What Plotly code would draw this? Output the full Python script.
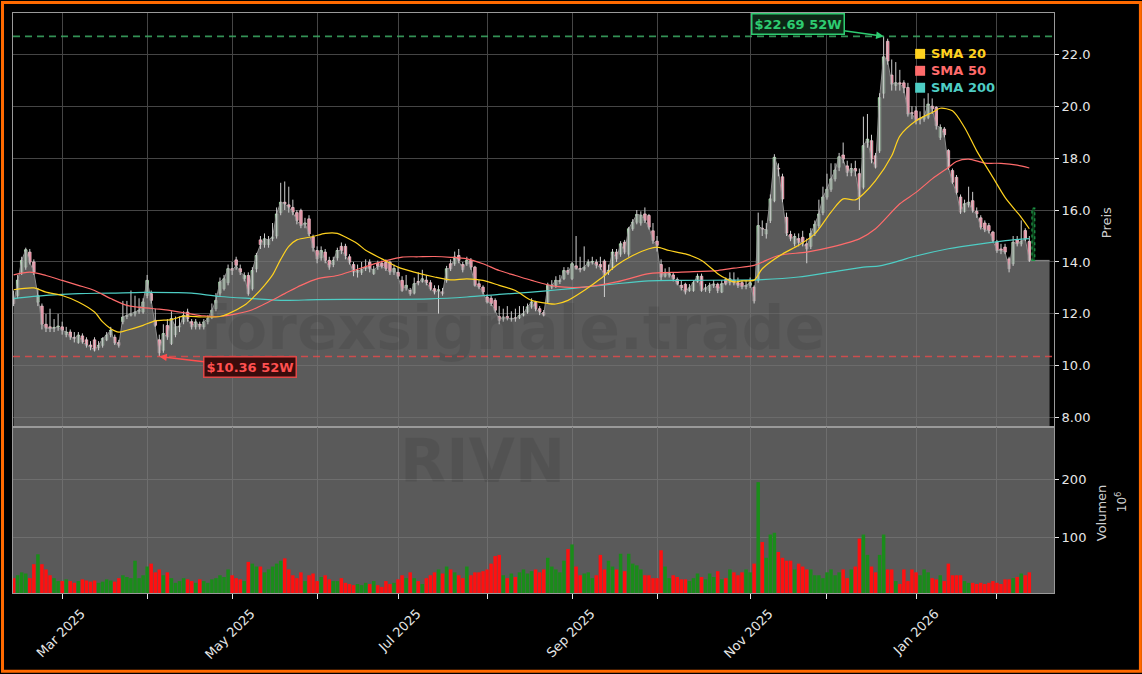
import plotly.graph_objects as go
import pandas as pd
import numpy as np

# ---------------- data ----------------
START = "2025-02-12"
END = "2026-02-12"
HOLIDAYS = ["2025-02-17", "2025-04-18", "2025-05-26", "2025-06-19", "2025-07-04",
            "2025-09-01", "2025-11-27", "2025-12-25", "2026-01-01", "2026-01-19"]

OPEN = [12.6, 12.71, 13.6, 13.8, 14.38, 14.0, 12.45, 12.3, 11.6, 11.5,
        11.45, 11.5, 11.5, 11.2, 11.3, 11.1, 10.9, 11.15, 11.0, 10.8,
        11.0, 10.7, 10.79, 11.0, 11.2, 11.1, 10.9, 11.7, 11.9, 11.95,
        12.0, 12.1, 12.07, 12.71, 12.78, 11.75, 11.0, 10.6, 11.55, 10.86,
        11.2, 11.5, 11.7, 12.07, 11.7, 11.5, 11.6, 11.5, 11.7, 11.85,
        12.2, 12.8, 12.97, 13.2, 13.74, 14.08, 13.74, 13.35, 13.48, 12.97,
        13.74, 14.85, 14.67, 14.67, 14.9, 15.0, 15.9, 16.3, 16.2, 16.1,
        15.9, 15.98, 15.45, 15.66, 14.96, 14.44, 14.16, 14.38, 14.06, 13.9,
        14.16, 14.6, 14.6, 14.2, 13.9, 13.6, 13.6, 13.75, 13.99, 13.55,
        13.95, 13.95, 13.99, 13.99, 13.61, 13.6, 13.29, 13.0, 12.9, 12.8,
        13.25, 13.25, 13.3, 13.2, 12.97, 12.9, 12.85, 13.29, 13.93, 13.93,
        14.25, 13.9, 13.93, 14.06, 13.8, 13.16, 13.03, 12.65, 12.6, 12.52,
        11.9, 11.8, 11.9, 11.8, 11.85, 11.85, 11.95, 12.07, 12.27, 12.44,
        12.2, 12.05, 12.46, 13.03, 13.1, 13.25, 13.36, 13.67, 13.36, 13.85,
        13.75, 13.72, 13.87, 13.99, 13.99, 13.9, 14.03, 13.6, 13.78, 14.38,
        14.3, 14.76, 14.3, 15.28, 15.53, 15.5, 15.85, 15.79, 15.2, 14.8,
        13.9, 13.45, 13.5, 13.5, 13.32, 13.1, 13.14, 12.9, 12.9, 13.25,
        13.45, 12.95, 12.9, 13.1, 13.14, 12.84, 13.32, 13.2, 13.3, 13.2,
        13.2, 13.05, 13.1, 13.03, 13.3, 15.3, 15.08, 15.6, 16.36, 17.6,
        17.28, 15.72, 15.06, 14.7, 14.9, 14.95, 14.7, 14.6, 15.1, 15.4,
        15.9, 16.5, 16.8, 17.2, 17.65, 18.12, 17.7, 17.45, 17.6, 17.4,
        16.88, 18.6, 18.67, 18.09, 18.28, 20.5, 22.5, 21.2, 20.8, 20.9,
        20.9, 20.72, 19.75, 19.82, 19.5, 19.5, 19.57, 20.0, 19.95, 18.8,
        19.12, 18.29, 17.52, 17.26, 16.5, 15.95, 16.2, 16.36, 15.95, 15.7,
        15.5, 15.4, 15.15, 14.76, 14.5, 14.57, 14.12, 13.93, 14.85, 14.7,
        15.21, 14.79]

HIGH = [12.9, 13.5, 14.2, 14.55, 14.5, 14.1, 13.0, 12.4, 12.0, 12.2,
        11.8, 12.0, 11.7, 11.5, 11.4, 11.3, 11.3, 11.25, 11.1, 10.95,
        11.1, 10.95, 11.1, 11.3, 11.5, 11.2, 11.0, 12.5, 12.5, 12.9,
        12.7, 12.6, 12.6, 13.5, 12.9, 12.2, 11.2, 11.6, 11.8, 12.1,
        11.9, 11.9, 12.1, 12.2, 11.8, 11.8, 11.7, 11.8, 11.95, 12.4,
        12.8, 13.4, 13.5, 13.9, 14.0, 14.2, 13.9, 13.6, 13.6, 13.8,
        14.35, 15.0, 15.1, 15.0, 15.5, 16.1, 17.05, 17.1, 16.9, 16.4,
        16.0, 16.05, 15.7, 15.8, 15.05, 14.6, 14.6, 14.5, 14.2, 14.2,
        14.55, 14.75, 14.7, 14.3, 14.0, 13.9, 14.0, 14.1, 14.1, 13.85,
        14.05, 14.05, 14.1, 14.05, 13.9, 13.8, 13.45, 13.5, 13.0, 13.4,
        13.6, 13.7, 13.5, 13.3, 13.1, 13.1, 13.0, 13.85, 14.1, 14.4,
        14.5, 14.0, 14.2, 14.15, 13.85, 13.3, 13.1, 12.75, 12.7, 12.6,
        12.3, 12.2, 12.3, 12.1, 12.2, 12.3, 12.3, 12.4, 12.6, 12.5,
        12.3, 12.15, 13.2, 13.3, 13.45, 13.5, 13.8, 13.8, 14.0, 15.0,
        14.2, 14.6, 14.1, 14.2, 14.1, 14.2, 14.1, 13.9, 14.5, 14.5,
        14.8, 14.85, 15.35, 15.65, 16.0, 15.95, 16.1, 15.85, 15.5, 15.0,
        14.1, 13.75, 13.8, 13.6, 13.4, 13.3, 13.2, 13.15, 13.3, 13.55,
        13.55, 13.15, 13.2, 13.3, 13.2, 13.3, 13.4, 13.6, 13.6, 13.4,
        13.3, 13.3, 13.4, 13.1, 15.9, 15.6, 15.5, 16.6, 18.15, 17.8,
        17.4, 15.9, 15.2, 15.1, 15.1, 15.2, 14.9, 15.3, 15.6, 16.4,
        16.9, 17.4, 17.8, 17.8, 18.2, 18.6, 17.9, 17.8, 17.9, 17.6,
        19.6, 19.7, 18.9, 18.2, 20.5, 22.69, 22.6, 21.8, 21.7, 21.4,
        21.0, 20.9, 20.0, 20.0, 19.8, 20.3, 20.5, 20.3, 20.0, 19.3,
        19.2, 18.35, 17.6, 17.35, 16.6, 16.4, 16.9, 16.7, 16.1, 15.8,
        15.6, 15.5, 15.2, 14.85, 14.7, 14.7, 14.2, 15.0, 15.0, 15.6,
        15.3, 15.0]

LOW = [12.3, 12.6, 13.5, 13.7, 13.9, 13.5, 12.3, 11.4, 11.3, 11.3,
       11.3, 11.35, 11.2, 11.1, 11.0, 10.9, 10.85, 10.85, 10.7, 10.6,
       10.55, 10.6, 10.7, 10.95, 11.1, 10.8, 10.7, 11.6, 11.8, 11.9,
       11.9, 12.0, 12.0, 12.6, 12.4, 11.5, 10.36, 10.5, 11.0, 10.8,
       11.1, 11.3, 11.6, 11.7, 11.4, 11.4, 11.4, 11.4, 11.6, 11.8,
       12.1, 12.7, 12.9, 13.1, 13.5, 13.7, 13.5, 13.25, 12.7, 12.9,
       13.6, 14.5, 14.55, 14.55, 14.8, 14.9, 15.8, 16.0, 15.9, 15.8,
       15.45, 15.3, 15.3, 15.0, 14.4, 13.95, 14.05, 13.95, 13.7, 13.8,
       14.05, 14.3, 14.1, 13.9, 13.45, 13.4, 13.5, 13.65, 13.6, 13.5,
       13.7, 13.75, 13.65, 13.5, 13.5, 13.35, 12.85, 12.9, 12.7, 12.75,
       13.1, 13.2, 13.1, 12.9, 12.75, 12.01, 12.7, 13.2, 13.65, 13.85,
       13.95, 13.6, 13.85, 13.7, 13.05, 12.95, 12.75, 12.4, 12.3, 12.05,
       11.6, 11.7, 11.75, 11.7, 11.7, 11.8, 11.9, 12.0, 12.2, 12.1,
       11.95, 11.9, 12.4, 12.95, 13.0, 13.15, 13.3, 13.5, 13.3, 13.7,
       13.6, 13.65, 13.8, 13.9, 13.75, 13.7, 12.65, 13.5, 13.7, 14.0,
       14.2, 14.3, 14.2, 15.2, 15.45, 15.4, 15.5, 15.25, 14.7, 14.4,
       13.3, 13.4, 13.4, 13.25, 13.1, 12.9, 12.75, 12.85, 12.85, 13.2,
       12.85, 12.85, 12.8, 13.0, 12.8, 12.8, 13.1, 13.1, 13.1, 13.0,
       12.95, 12.95, 13.0, 12.4, 13.2, 15.0, 14.9, 15.5, 16.3, 17.3,
       16.3, 15.0, 14.8, 14.6, 14.6, 14.6, 13.95, 14.5, 15.0, 15.3,
       15.8, 16.4, 16.7, 17.1, 17.5, 17.8, 17.3, 17.3, 17.3, 16.0,
       16.8, 18.4, 17.8, 17.6, 18.2, 20.3, 21.6, 20.6, 20.6, 20.6,
       20.5, 19.6, 19.5, 19.3, 19.3, 19.4, 19.5, 19.7, 19.1, 18.7,
       18.8, 17.55, 17.0, 16.6, 15.85, 15.9, 16.1, 15.9, 15.7, 15.25,
       15.15, 15.1, 14.75, 14.35, 14.3, 14.3, 13.6, 13.85, 14.6, 14.6,
       14.8, 14.0]

CLOSE = [12.4, 13.3, 14.06, 14.47, 13.99, 13.61, 12.7, 11.6, 11.45, 11.43,
         11.45, 11.5, 11.37, 11.3, 11.11, 11.05, 11.18, 10.92, 10.79, 10.73,
         10.6, 10.79, 11.05, 11.18, 11.37, 10.88, 10.79, 11.88, 11.94, 12.01,
         12.07, 12.14, 12.46, 13.29, 12.52, 11.56, 10.5, 11.24, 11.11, 11.82,
         11.5, 11.5, 11.94, 11.82, 11.5, 11.69, 11.5, 11.69, 11.82, 12.14,
         12.52, 13.23, 13.35, 13.74, 13.67, 13.87, 13.61, 13.48, 12.78, 13.67,
         14.25, 14.67, 14.89, 14.85, 14.96, 15.85, 16.3, 16.24, 16.11, 15.92,
         15.6, 15.4, 15.5, 15.08, 14.55, 14.12, 14.44, 14.06, 13.8, 14.06,
         14.44, 14.44, 14.25, 13.99, 13.61, 13.67, 13.7, 13.8, 13.74, 13.7,
         13.83, 13.83, 13.74, 13.61, 13.75, 13.45, 12.9, 13.1, 12.78, 13.16,
         13.2, 13.35, 13.2, 12.97, 12.84, 12.9, 12.78, 13.74, 13.74, 14.19,
         14.06, 13.7, 14.06, 13.8, 13.1, 13.03, 12.84, 12.46, 12.4, 12.14,
         11.75, 11.88, 11.82, 11.82, 11.82, 11.94, 12.01, 12.27, 12.46, 12.2,
         12.07, 11.95, 13.1, 13.1, 13.29, 13.25, 13.67, 13.57, 13.93, 13.75,
         13.7, 13.8, 13.99, 13.99, 13.87, 13.8, 13.48, 13.68, 14.38, 14.12,
         14.7, 14.38, 15.28, 15.53, 15.83, 15.8, 15.6, 15.34, 14.83, 14.64,
         13.42, 13.6, 13.55, 13.35, 13.16, 13.0, 12.84, 13.0, 13.2, 13.45,
         12.9, 13.0, 13.1, 13.15, 12.9, 13.16, 13.16, 13.35, 13.2, 13.1,
         13.05, 13.1, 13.2, 12.5, 15.4, 15.27, 15.24, 16.43, 18.03, 17.58,
         16.43, 15.11, 14.89, 14.98, 14.75, 14.76, 14.5, 15.1, 15.45, 15.85,
         16.5, 16.8, 17.2, 17.54, 18.05, 17.96, 17.45, 17.6, 17.5, 16.5,
         18.48, 18.73, 17.96, 17.65, 20.33, 21.9, 21.74, 20.85, 20.9, 20.85,
         20.7, 19.7, 19.72, 19.44, 19.5, 19.6, 20.08, 19.9, 19.25, 19.18,
         18.9, 17.65, 17.07, 16.68, 15.92, 16.24, 16.3, 15.98, 15.85, 15.34,
         15.24, 15.2, 14.83, 14.44, 14.44, 14.38, 13.74, 14.76, 14.7, 14.8,
         14.89, 14.06]

VOLUME_M = [30, 35, 40, 38, 30, 54, 71, 54, 45, 35,
            30, 25, 25, 28, 25, 22, 25, 28, 26, 24,
            26, 22, 24, 28, 26, 24, 30, 35, 32, 30,
            60, 30, 35, 50, 55, 40, 45, 35, 40, 30,
            22, 25, 30, 28, 25, 22, 28, 25, 22, 28,
            30, 35, 32, 45, 35, 30, 28, 25, 58, 55,
            50, 50, 40, 45, 50, 55, 60, 64, 45, 35,
            30, 40, 25, 35, 38, 25, 32, 35, 28, 25,
            25, 30, 22, 20, 18, 20, 18, 22, 20, 25,
            18, 15, 25, 20, 22, 28, 35, 30, 40, 30,
            25, 20, 30, 35, 40, 45, 38, 50, 45, 40,
            35, 30, 50, 35, 40, 40, 42, 45, 55, 68,
            70, 35, 30, 38, 32, 40, 45, 38, 42, 45,
            40, 45, 65, 50, 45, 40, 60, 80, 88, 50,
            35, 38, 40, 30, 35, 70, 45, 60, 50, 45,
            72, 42, 72, 55, 52, 45, 35, 35, 30, 30,
            78, 50, 30, 35, 32, 28, 28, 25, 30, 38,
            32, 28, 38, 32, 42, 28, 30, 45, 40, 35,
            40, 45, 40, 55, 195, 92, 65, 105, 108, 75,
            65, 60, 60, 45, 55, 50, 45, 45, 35, 35,
            30, 40, 45, 35, 40, 45, 30, 45, 50, 98,
            105, 70, 50, 40, 70, 105, 45, 45, 25, 20,
            45, 25, 45, 40, 35, 45, 40, 30, 28, 35,
            25, 55, 35, 35, 35, 25, 22, 22, 20, 22,
            20, 22, 25, 22, 20, 28, 28, 30, 32, 38,
            35, 40]

SMA20_X = [0, 5, 8, 12, 16, 20, 22, 24, 26, 28, 32, 35, 39, 42, 47, 51, 53, 57, 59, 62,
           64, 66, 68, 70, 74, 77, 80, 82, 85, 87, 91, 95, 99, 104, 108, 112, 116, 120, 124, 128,
           132, 134, 137, 141, 145, 149, 153, 157, 159, 162, 166, 170, 174, 176, 178, 180, 183, 185,
           190, 194, 198, 202, 205, 208, 210, 213, 217, 219, 223, 227, 229, 232, 235, 238, 242, 245,
           249, 251]
SMA20_Y = [12.93, 13.0, 12.84, 12.71, 12.46, 12.07, 11.69, 11.43, 11.3, 11.37, 11.56, 11.73, 11.78,
           11.91, 11.88, 11.9, 12.0, 12.33, 12.6, 13.1, 13.5, 14.1, 14.6, 14.85, 14.98, 15.1, 15.1,
           14.96, 14.7, 14.45, 14.12, 13.8, 13.61, 13.42, 13.31, 13.35, 13.29, 13.1, 12.9, 12.52,
           12.4, 12.38, 12.52, 12.9, 13.35, 13.87, 14.25, 14.51, 14.57, 14.44, 14.31, 14.06, 13.55,
           13.36, 13.23, 13.27, 13.3, 13.74, 14.31, 14.64, 15.08, 15.92, 16.43, 16.39, 16.62, 17.13,
           18.09, 18.85, 19.44, 19.76, 19.92, 19.82, 19.18, 18.28, 17.26, 16.49, 15.72, 15.28]

SMA50_X = [0, 4, 8, 12, 16, 20, 24, 28, 32, 36, 40, 43, 47, 51, 55, 59, 63, 67, 71, 75,
           80, 84, 88, 92, 96, 100, 104, 108, 112, 116, 120, 124, 128, 134, 141, 149, 157, 165,
           174, 178, 183, 189, 196, 202, 209, 213, 219, 223, 227, 231, 233, 236, 240, 244, 248, 251]
SMA50_Y = [13.5, 13.61, 13.48, 13.29, 13.1, 12.9, 12.59, 12.33, 12.24, 12.18, 12.1, 12.02, 11.92,
           11.9, 12.0, 12.16, 12.46, 12.78, 13.1, 13.35, 13.48, 13.67, 13.87, 14.05, 14.19, 14.2,
           14.21, 14.18, 14.12, 13.93, 13.67, 13.48, 13.29, 13.06, 13.03, 13.23, 13.55, 13.61,
           13.67, 13.76, 13.87, 14.25, 14.38, 14.57, 14.89, 15.28, 16.24, 16.68, 17.2, 17.64,
           17.87, 17.96, 17.81, 17.8, 17.73, 17.62]

SMA200_X = [0, 8, 16, 24, 32, 40, 44, 51, 59, 67, 75, 88, 103, 112, 120, 128, 134, 141, 149,
            157, 165, 178, 185, 194, 202, 210, 214, 219, 222, 231, 239, 247, 251]
SMA200_Y = [12.59, 12.71, 12.78, 12.8, 12.83, 12.82, 12.8, 12.67, 12.59, 12.52, 12.55, 12.56,
            12.58, 12.65, 12.75, 12.84, 12.92, 13.03, 13.16, 13.27, 13.29, 13.3, 13.32, 13.42,
            13.61, 13.8, 13.85, 14.05, 14.19, 14.51, 14.7, 14.85, 14.9]

HIGH_52W = 22.69
LOW_52W = 10.36
MARKER_RANGE = [14.06, 16.07]   # green dashed marker after the last candle

PRICE_TICKS = [8, 10, 12, 14, 16, 18, 20, 22]
PRICE_TICK_TEXT = ["8.00", "10.0", "12.0", "14.0", "16.0", "18.0", "20.0", "22.0"]
VOL_TICKS = [100, 200]
VOL_TICK_TEXT = ["100", "200"]

# ---------------- styling / geometry ----------------
W, H = 1142, 674
ML, MR, MT, MB = 12, 88, 12, 80
PW, PH = W - ML - MR, H - MT - MB
VOL_FRAC = (594 - 427.5) / PH
EXT = 5
FONT = "DejaVu Sans"
GRID_TOP = "#454545"
GRID_VOL = "#6e6e6e"
SPINE = "#9a9a9a"
TICKCOL = "#e6e6e6"
C20, C50, C200 = "#FFD21F", "#FF6B6B", "#4ECDC4"
UP_FILL, UP_EDGE = "#3fc45c", "#c9efc9"
DN_FILL, DN_EDGE = "#f04d72", "#f7c6d1"
WICK = "#cfcfcf"
BODY_W = 0.62
MIN_BODY = 0.03


def pxx(px):
    return (px - ML) / PW


def pxy(py):
    return (H - MB - py) / PH


N = len(CLOSE)
dates = pd.bdate_range(START, END, freq="C", holidays=HOLIDAYS)[:N]
idx = list(range(N))

tick_idx, tick_txt = [], []
for i in range(1, N):
    if dates[i].month != dates[i - 1].month:
        tick_idx.append(i)
        tick_txt.append(dates[i].strftime("%b %Y") if dates[i].month % 2 == 1 else "")

XR = [-0.15, 257.1]

fig = go.Figure()

# filled close area
fig.add_trace(go.Scatter(
    x=idx + [N - 1 + EXT], y=CLOSE + [CLOSE[-1]], mode="lines", fill="tozeroy",
    fillcolor="rgba(120,120,120,0.76)", line=dict(color="#8c8c8c", width=1),
    hoverinfo="skip", showlegend=False, xaxis="x", yaxis="y"))

# candle wicks
wx, wy = [], []
for i in idx:
    wx += [i, i, None]
    wy += [LOW[i], HIGH[i], None]
fig.add_trace(go.Scatter(x=wx, y=wy, mode="lines", line=dict(color=WICK, width=1),
                         hoverinfo="skip", showlegend=False, xaxis="x", yaxis="y"))

# candle bodies
up = [c >= o for o, c in zip(OPEN, CLOSE)]
base = [min(o, c) for o, c in zip(OPEN, CLOSE)]
height = [max(abs(c - o), MIN_BODY) for o, c in zip(OPEN, CLOSE)]
fig.add_trace(go.Bar(
    x=idx, y=height, base=base, width=BODY_W,
    marker=dict(color=[UP_FILL if u else DN_FILL for u in up],
                line=dict(color=[UP_EDGE if u else DN_EDGE for u in up], width=0.8)),
    hoverinfo="skip", showlegend=False, xaxis="x", yaxis="y"))

# moving averages
for xs, ys, col in [(SMA200_X, SMA200_Y, C200), (SMA50_X, SMA50_Y, C50), (SMA20_X, SMA20_Y, C20)]:
    fig.add_trace(go.Scatter(x=xs, y=ys, mode="lines",
                             line=dict(color=col, width=1.2, shape="spline", smoothing=0.8),
                             hoverinfo="skip", showlegend=False, xaxis="x", yaxis="y"))

# volume
vol_colors = ["#1a8c1a" if u else "#ff1010" for u in up]
fig.add_trace(go.Bar(x=idx, y=VOLUME_M, marker=dict(color=vol_colors, line=dict(width=0)),
                     width=0.86, showlegend=False, xaxis="x2", yaxis="y2"))

tickfont = dict(family=FONT, size=13, color=TICKCOL)

fig.update_layout(
    width=W, height=H, margin=dict(l=ML, r=MR, t=MT, b=MB),
    paper_bgcolor="black", plot_bgcolor="black", showlegend=False,
    barmode="overlay",
    xaxis=dict(domain=[0, 1], anchor="y", range=XR, tickvals=tick_idx, showticklabels=False,
               ticks="", showgrid=True, gridcolor=GRID_TOP, gridwidth=1, zeroline=False,
               showline=True, linecolor=SPINE, linewidth=1, mirror=True,
               rangeslider=dict(visible=False)),
    yaxis=dict(domain=[VOL_FRAC, 1], anchor="x", side="right", range=[7.64, 23.59],
               tickvals=PRICE_TICKS, ticktext=PRICE_TICK_TEXT, ticks="outside", ticklen=4,
               tickcolor=TICKCOL, tickfont=tickfont, showgrid=True, gridcolor=GRID_TOP,
               zeroline=False, showline=True, linecolor=SPINE, linewidth=1, mirror=True),
    xaxis2=dict(domain=[0, 1], anchor="y2", matches="x", range=XR, tickvals=tick_idx,
                ticktext=tick_txt, tickangle=-45, ticks="outside", ticklen=5, tickcolor=TICKCOL,
                tickfont=tickfont, ticklabelshift=19, ticklabelstandoff=2,
                showgrid=True, gridcolor=GRID_VOL, zeroline=False,
                showline=True, linecolor=SPINE, linewidth=1, mirror=True),
    yaxis2=dict(domain=[0, VOL_FRAC], anchor="x2", side="right", range=[4.5, 289.7],
                tickvals=VOL_TICKS, ticktext=VOL_TICK_TEXT, ticks="outside", ticklen=4,
                tickcolor=TICKCOL, tickfont=tickfont, showgrid=True, gridcolor=GRID_VOL,
                zeroline=False, showline=True, linecolor=SPINE, linewidth=1, mirror=True),
)

shapes = [
    # volume panel background
    dict(type="rect", xref="paper", yref="paper", x0=0, x1=1, y0=0, y1=VOL_FRAC,
         fillcolor="#5a5a5a", line=dict(width=0), layer="below"),
    # 52 week lines
    dict(type="line", xref="paper", yref="y", x0=0, x1=1, y0=HIGH_52W, y1=HIGH_52W,
         line=dict(color="rgba(60,170,100,0.85)", width=1.6, dash="7px,5px")),
    dict(type="line", xref="paper", yref="y", x0=0, x1=1, y0=LOW_52W, y1=LOW_52W,
         line=dict(color="rgba(225,75,75,0.85)", width=1.6, dash="7px,5px")),
    # marker after last candle
    dict(type="rect", xref="x", yref="y", x0=N - 0.35, x1=N + 0.35,
         y0=MARKER_RANGE[0], y1=MARKER_RANGE[1], fillcolor="rgba(15,90,35,0.7)",
         line=dict(color="#1f9a4a", width=1.2, dash="dot")),
    # orange frame
    dict(type="rect", xref="paper", yref="paper", x0=pxx(1.5), x1=pxx(W - 1.5),
         y0=pxy(H - 1.5), y1=pxy(1.5), line=dict(color="#ff6a00", width=3),
         fillcolor="rgba(0,0,0,0)", layer="above"),
]

# legend squares + labels
legend_items = [("SMA 20", C20, 53), ("SMA 50", C50, 70), ("SMA 200", C200, 87)]
annotations = []
for name, col, yc in legend_items:
    shapes.append(dict(type="rect", xref="paper", yref="paper", x0=pxx(915), x1=pxx(925),
                       y0=pxy(yc + 5), y1=pxy(yc - 5), fillcolor=col, line=dict(width=0)))
    annotations.append(dict(xref="paper", yref="paper", x=pxx(929), y=pxy(yc), text=f"<b>{name}</b>",
                            showarrow=False, xanchor="left", yanchor="middle",
                            font=dict(family=FONT, size=13, color=col)))

i_hi = int(np.argmax(HIGH))
i_lo = int(np.argmin(LOW))
annotations += [
    dict(x=i_hi, y=HIGH_52W, xref="x", yref="y", text=f"<b>${HIGH_52W:.2f} 52W</b>",
         showarrow=True, arrowhead=2, arrowsize=1, arrowwidth=1.5, arrowcolor="#2ecc71",
         ax=-86, ay=-12, font=dict(family=FONT, size=13, color="#2ecc71"),
         bgcolor="#0c2615", bordercolor="#2ecc71", borderwidth=1.5, borderpad=2),
    dict(x=i_lo, y=LOW_52W, xref="x", yref="y", text=f"<b>${LOW_52W:.2f} 52W</b>",
         showarrow=True, arrowhead=2, arrowsize=1, arrowwidth=1.5, arrowcolor="#ff4d4d",
         ax=91, ay=11, font=dict(family=FONT, size=13, color="#ff5050"),
         bgcolor="#3a0c0c", bordercolor="#e04848", borderwidth=1.5, borderpad=2),
    # watermarks
    dict(xref="paper", yref="paper", x=pxx(512), y=pxy(328), text="<b>forexsignale.trade</b>",
         showarrow=False, xanchor="center", yanchor="middle",
         font=dict(family=FONT, size=60, color="rgba(0,0,0,0.08)")),
    dict(xref="paper", yref="paper", x=pxx(482), y=pxy(462), text="<b>RIVN</b>",
         showarrow=False, xanchor="center", yanchor="middle",
         font=dict(family=FONT, size=60, color="rgba(0,0,0,0.08)")),
    # axis titles
    dict(xref="paper", yref="paper", x=pxx(1106), y=pxy(222), text="Preis", textangle=-90,
         showarrow=False, xanchor="center", yanchor="middle",
         font=dict(family=FONT, size=13, color="#cfcfcf")),
    dict(xref="paper", yref="paper", x=pxx(1101), y=pxy(513), text="Volumen", textangle=-90,
         showarrow=False, xanchor="center", yanchor="middle",
         font=dict(family=FONT, size=13, color="#cfcfcf")),
    dict(xref="paper", yref="paper", x=pxx(1121), y=pxy(502), text="10<sup>6</sup>", textangle=-90,
         showarrow=False, xanchor="center", yanchor="middle",
         font=dict(family=FONT, size=12, color="#cfcfcf")),
]

fig.update_layout(shapes=shapes, annotations=annotations)

fig.write_html("out.html", config={"displayModeBar": False},
               post_script="document.body.style.margin='0';document.body.style.overflow='hidden';")
